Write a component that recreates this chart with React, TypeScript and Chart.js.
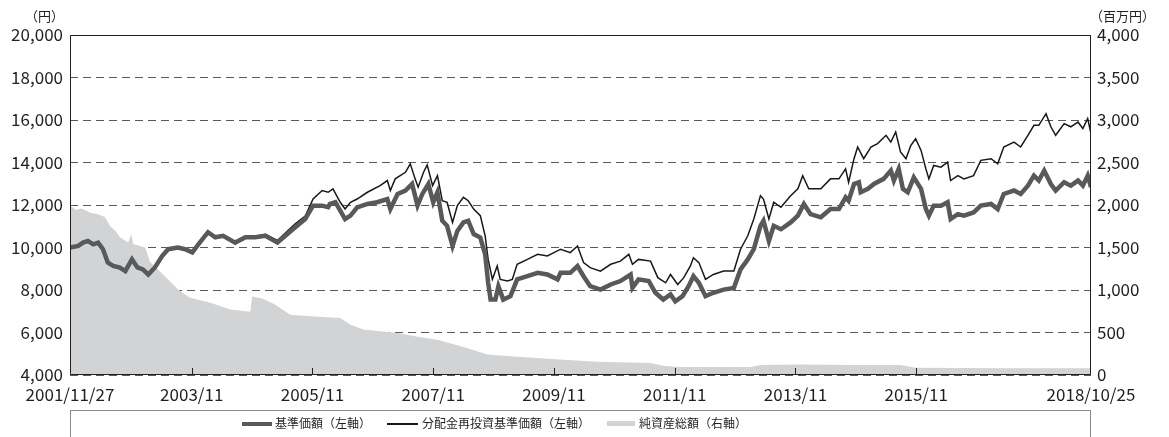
import { useEffect, useRef } from "react";
import { Chart, registerables } from "chart.js";

Chart.register(...registerables);

// 基準価額（左軸） — decimal-year dates and values (円)
const baseDates = [
  2001.904, 2002.04, 2002.12, 2002.2, 2002.29, 2002.37, 2002.45, 2002.53, 2002.62, 2002.73, 2002.82, 2002.93,
  2003.02, 2003.11, 2003.2, 2003.31, 2003.43, 2003.53, 2003.69, 2003.81, 2003.93, 2004.03, 2004.19, 2004.31,
  2004.44, 2004.64, 2004.81, 2004.97, 2005.14, 2005.34, 2005.47, 2005.63, 2005.8, 2005.93, 2006.08, 2006.18,
  2006.21, 2006.3, 2006.46, 2006.55, 2006.66, 2006.83, 2006.99, 2007.16, 2007.21, 2007.33, 2007.46, 2007.57,
  2007.66, 2007.74, 2007.84, 2007.92, 2007.99, 2008.07, 2008.15, 2008.24, 2008.32, 2008.42, 2008.5, 2008.59,
  2008.7, 2008.78, 2008.83, 2008.87, 2008.95, 2009.0, 2009.08, 2009.2, 2009.31, 2009.48, 2009.65, 2009.81,
  2009.98, 2010.03, 2010.19, 2010.31, 2010.41, 2010.52, 2010.69, 2010.86, 2011.02, 2011.19, 2011.22, 2011.32,
  2011.49, 2011.6, 2011.73, 2011.85, 2011.93, 2012.05, 2012.15, 2012.23, 2012.32, 2012.43, 2012.56, 2012.73,
  2012.9, 2013.01, 2013.13, 2013.23, 2013.34, 2013.39, 2013.48, 2013.56, 2013.68, 2013.84, 2013.96, 2014.06,
  2014.17, 2014.34, 2014.5, 2014.64, 2014.75, 2014.8, 2014.89, 2014.97, 2015.0, 2015.12, 2015.22, 2015.38,
  2015.5, 2015.55, 2015.63, 2015.7, 2015.78, 2015.88, 2016.0, 2016.08, 2016.13, 2016.21, 2016.33, 2016.44,
  2016.49, 2016.61, 2016.71, 2016.87, 2016.99, 2017.16, 2017.27, 2017.37, 2017.54, 2017.65, 2017.77, 2017.87,
  2017.95, 2018.04, 2018.15, 2018.23, 2018.37, 2018.48, 2018.6, 2018.68, 2018.76, 2018.815,
];
const baseValues = [
  10000, 10075, 10230, 10310, 10150, 10230, 9920, 9290, 9130, 9050, 8890, 9445,
  9060, 8970, 8730, 9060, 9600, 9920, 10000, 9920, 9770, 10150, 10720, 10480,
  10550, 10230, 10480, 10480, 10550, 10230, 10550, 10940, 11340, 11970, 11970, 11900,
  12050, 12130, 11340, 11500, 11890, 12050, 12130, 12280, 11810, 12520, 12680, 12990,
  11970, 12520, 12990, 12130, 12600, 11260, 11020, 10070, 10780, 11180, 11260, 10630,
  10470, 9680, 8340, 7550, 7550, 8180, 7550, 7710, 8500, 8650, 8810, 8730,
  8500, 8810, 8810, 9130, 8650, 8180, 8020, 8260, 8420, 8730, 8100, 8500,
  8420, 7870, 7550, 7790, 7470, 7710, 8180, 8650, 8340, 7710, 7870, 8020,
  8100, 8970, 9440, 9920, 11020, 11260, 10310, 11020, 10860, 11180, 11500, 12050,
  11570, 11420, 11810, 11810, 12360, 12200, 12990, 13070, 12600, 12760, 12990, 13230,
  13620, 13150, 13700, 12760, 12600, 13300, 12760, 11810, 11500, 11970, 11970, 12130,
  11340, 11570, 11500, 11650, 11970, 12050, 11810, 12520, 12680, 12520, 12910, 13380,
  13150, 13620, 12990, 12680, 13070, 12910, 13150, 12910, 13380, 12840,
];

// 分配金再投資基準価額（左軸）
const reinvestDates = [
  2001.904, 2002.04, 2002.12, 2002.2, 2002.29, 2002.37, 2002.45, 2002.53, 2002.62, 2002.73, 2002.82, 2002.93,
  2003.02, 2003.11, 2003.2, 2003.31, 2003.43, 2003.53, 2003.69, 2003.81, 2003.93, 2004.03, 2004.19, 2004.31,
  2004.44, 2004.64, 2004.81, 2004.97, 2005.14, 2005.34, 2005.47, 2005.63, 2005.8, 2005.93, 2006.08, 2006.18,
  2006.26, 2006.38, 2006.46, 2006.55, 2006.66, 2006.83, 2007.04, 2007.16, 2007.21, 2007.29, 2007.46, 2007.54,
  2007.62, 2007.67, 2007.76, 2007.82, 2007.91, 2007.99, 2008.07, 2008.15, 2008.24, 2008.32, 2008.42, 2008.5,
  2008.59, 2008.7, 2008.78, 2008.83, 2008.9, 2008.98, 2009.03, 2009.15, 2009.23, 2009.31, 2009.48, 2009.65,
  2009.81, 2010.03, 2010.19, 2010.31, 2010.41, 2010.52, 2010.69, 2010.86, 2011.02, 2011.16, 2011.22, 2011.32,
  2011.52, 2011.64, 2011.77, 2011.85, 2011.97, 2012.07, 2012.18, 2012.23, 2012.32, 2012.43, 2012.56, 2012.73,
  2012.9, 2013.01, 2013.13, 2013.23, 2013.34, 2013.39, 2013.48, 2013.56, 2013.68, 2013.84, 2013.96, 2014.04,
  2014.14, 2014.34, 2014.5, 2014.64, 2014.75, 2014.8, 2014.89, 2014.95, 2015.05, 2015.17, 2015.28, 2015.42,
  2015.5, 2015.58, 2015.66, 2015.75, 2015.83, 2015.91, 2016.0, 2016.08, 2016.13, 2016.21, 2016.33, 2016.44,
  2016.49, 2016.61, 2016.71, 2016.87, 2016.99, 2017.16, 2017.27, 2017.37, 2017.54, 2017.65, 2017.77, 2017.87,
  2017.95, 2018.07, 2018.15, 2018.23, 2018.37, 2018.48, 2018.6, 2018.68, 2018.76, 2018.815,
];
const reinvestValues = [
  10000, 10075, 10230, 10310, 10150, 10230, 9920, 9290, 9130, 9050, 8890, 9445,
  9060, 8970, 8730, 9060, 9600, 9920, 10000, 9920, 9770, 10150, 10720, 10480,
  10550, 10230, 10480, 10520, 10620, 10330, 10680, 11100, 11480, 12280, 12680, 12600,
  12760, 12130, 11810, 12130, 12280, 12600, 12910, 13150, 12680, 13230, 13540, 13940,
  13230, 12840, 13540, 13890, 12910, 13380, 12200, 12130, 11180, 11970, 12360, 12200,
  11810, 11500, 10550, 9440, 8500, 9130, 8500, 8420, 8500, 9210, 9440, 9680,
  9600, 9920, 9760, 10070, 9290, 9050, 8890, 9210, 9360, 9680, 9210, 9440,
  9360, 8580, 8340, 8730, 8260, 8580, 9130, 9520, 9290, 8500, 8730, 8890,
  8890, 9920, 10550, 11340, 12440, 12280, 11340, 12130, 11890, 12440, 12760, 13380,
  12760, 12760, 13230, 13230, 13700, 13070, 14180, 14730, 14180, 14730, 14890, 15280,
  14960, 15440, 14500, 14180, 14800, 15120, 14570, 13700, 13230, 13860, 13780, 14020,
  13150, 13380, 13230, 13380, 14100, 14180, 13940, 14730, 14960, 14730, 15280, 15750,
  15750, 16300, 15680, 15280, 15830, 15680, 15900, 15600, 16070, 15360,
];

// 純資産総額（右軸） — 百万円
const navDates = [
  2001.904, 2002.0, 2002.1, 2002.24, 2002.37, 2002.48, 2002.57, 2002.65, 2002.73, 2002.87, 2002.92, 2002.95,
  2003.15, 2003.23, 2003.48, 2003.69, 2003.89, 2004.23, 2004.56, 2004.89, 2004.92, 2005.09, 2005.3, 2005.55,
  2005.88, 2006.3, 2006.38, 2006.55, 2006.76, 2007.33, 2007.66, 2007.99, 2008.42, 2008.82, 2009.31, 2010.08,
  2010.64, 2011.52, 2011.73, 2011.97, 2013.18, 2013.34, 2014.01, 2014.83, 2015.66, 2015.91, 2017.32, 2018.815,
];
const navValues = [
  1990, 1940, 1960, 1910, 1890, 1860, 1750, 1700, 1620, 1560, 1660, 1540,
  1500, 1330, 1160, 1010, 910, 850, 770, 745, 925, 900, 830, 710,
  690, 675, 670, 590, 535, 495, 450, 415, 330, 240, 215, 180,
  155, 140, 108, 95, 95, 118, 125, 118, 118, 85, 80, 78,
];

const leftTicks = [4000, 6000, 8000, 10000, 12000, 14000, 16000, 18000, 20000];
const rightTicks = [0, 500, 1000, 1500, 2000, 2500, 3000, 3500, 4000];
const xTickDates = [2001.904, 2003.92, 2005.92, 2007.92, 2009.92, 2011.92, 2013.92, 2015.92, 2018.815];
const xTickLabels = [
  "2001/11/27", "2003/11", "2005/11", "2007/11", "2009/11", "2011/11", "2013/11", "2015/11", "2018/10/25",
];

const FONT = "'Noto Sans CJK JP', 'Noto Sans', sans-serif";
const INK = "#231f20";

const toPoints = (xs: number[], ys: number[]) => xs.map((x, i) => ({ x, y: ys[i] }));
const fmt = (v: number) => Number(v).toLocaleString("en-US");

const framePlugin = {
  id: "frame",
  afterDatasetsDraw(chart: any) {
    const { ctx, chartArea } = chart;
    const { left, right, top, bottom } = chartArea;
    const xs = chart.scales.x;
    ctx.save();
    ctx.strokeStyle = INK;
    ctx.lineWidth = 1;
    ctx.setLineDash([]);
    ctx.beginPath();
    ctx.moveTo(left + 0.5, top + 0.5);
    ctx.lineTo(right - 0.5, top + 0.5);
    ctx.lineTo(right - 0.5, bottom - 0.5);
    ctx.lineTo(left + 0.5, bottom - 0.5);
    ctx.closePath();
    xTickDates.slice(1, -1).forEach((d) => {
      const px = Math.round(xs.getPixelForValue(d)) + 0.5;
      ctx.moveTo(px, bottom);
      ctx.lineTo(px, bottom - 7);
    });
    ctx.stroke();
    ctx.restore();
  },
};

export default function App() {
  const ref = useRef<HTMLCanvasElement | null>(null);

  useEffect(() => {
    document.body.style.margin = "0";
    if (!ref.current) return;
    const chart = new Chart(ref.current, {
      type: "line",
      data: {
        datasets: [
          {
            label: "基準価額（左軸）",
            data: toPoints(baseDates, baseValues),
            borderColor: "#58595b",
            borderWidth: 4.5,
            pointRadius: 0,
            tension: 0,
            fill: false,
            yAxisID: "y",
          },
          {
            label: "分配金再投資基準価額（左軸）",
            data: toPoints(reinvestDates, reinvestValues),
            borderColor: "#1a1718",
            borderWidth: 1.5,
            pointRadius: 0,
            tension: 0,
            fill: false,
            yAxisID: "y",
          },
          {
            label: "純資産総額（右軸）",
            data: toPoints(navDates, navValues),
            borderColor: "#d1d3d4",
            backgroundColor: "#d1d3d4",
            borderWidth: 0,
            pointRadius: 0,
            tension: 0,
            fill: "start",
            yAxisID: "y1",
          },
        ],
      },
      options: {
        animation: false,
        responsive: false,
        maintainAspectRatio: false,
        layout: { padding: { top: 35, left: 0, right: 0, bottom: 0 } },
        plugins: { legend: { display: false }, tooltip: { enabled: false } },
        scales: {
          x: {
            type: "linear",
            min: xTickDates[0],
            max: xTickDates[xTickDates.length - 1],
            afterBuildTicks: (s: any) => {
              s.ticks = xTickDates.map((v) => ({ value: v }));
            },
            afterFit: (s: any) => {
              s.height = 62;
            },
            ticks: {
              autoSkip: false,
              maxRotation: 0,
              padding: 9,
              color: INK,
              font: { family: FONT, size: 17 },
              callback: (v: any) => {
                const i = xTickDates.indexOf(Number(v));
                return i >= 0 ? xTickLabels[i] : "";
              },
            },
            grid: { display: false, drawTicks: false },
            border: { display: false },
          },
          y: {
            position: "left",
            min: leftTicks[0],
            max: leftTicks[leftTicks.length - 1],
            afterBuildTicks: (s: any) => {
              s.ticks = leftTicks.map((v) => ({ value: v }));
            },
            afterFit: (s: any) => {
              s.width = 70;
            },
            ticks: {
              padding: 7,
              color: INK,
              font: { family: FONT, size: 17 },
              callback: (v: any) => fmt(v),
            },
            grid: { color: "#58595b", lineWidth: 1, drawTicks: false },
            border: { display: false, dash: [8, 5] },
          },
          y1: {
            position: "right",
            min: rightTicks[0],
            max: rightTicks[rightTicks.length - 1],
            afterBuildTicks: (s: any) => {
              s.ticks = rightTicks.map((v) => ({ value: v }));
            },
            afterFit: (s: any) => {
              s.width = 78;
            },
            ticks: {
              padding: 6,
              color: INK,
              font: { family: FONT, size: 17 },
              callback: (v: any) => fmt(v),
            },
            grid: { display: false, drawTicks: false },
            border: { display: false },
          },
        },
      },
      plugins: [framePlugin],
    });
    return () => chart.destroy();
  }, []);

  const textStyle: any = {
    position: "absolute",
    fontFamily: FONT,
    color: INK,
    whiteSpace: "nowrap",
  };

  return (
    <div style={{ position: "relative", width: 1169, height: 437, overflow: "hidden", background: "#fff" }}>
      <canvas ref={ref} width={1169} height={437} style={{ display: "block" }} />
      <div style={{ ...textStyle, left: 25, top: 8, fontSize: 13, lineHeight: "15px" }}>（円）</div>
      <div style={{ ...textStyle, left: 1090, top: 8, fontSize: 13, lineHeight: "15px" }}>（百万円）</div>
      <div
        style={{
          position: "absolute",
          left: 70,
          top: 410,
          width: 1019,
          height: 60,
          borderTop: "1px solid #8a8a8a",
          borderLeft: "1px solid #8a8a8a",
          borderRight: "1px solid #8a8a8a",
        }}
      />
      <div style={{ position: "absolute", left: 242, top: 422, width: 30, height: 4, background: "#58595b" }} />
      <div style={{ ...textStyle, left: 275, top: 416, fontSize: 12, lineHeight: "14px" }}>基準価額（左軸）</div>
      <div style={{ position: "absolute", left: 387, top: 423, width: 31, height: 1.5, background: "#1a1718" }} />
      <div style={{ ...textStyle, left: 422, top: 416, fontSize: 12, lineHeight: "14px" }}>分配金再投資基準価額（左軸）</div>
      <div style={{ position: "absolute", left: 607, top: 421, width: 28, height: 5, background: "#d1d3d4" }} />
      <div style={{ ...textStyle, left: 639, top: 416, fontSize: 12, lineHeight: "14px" }}>純資産総額（右軸）</div>
    </div>
  );
}
